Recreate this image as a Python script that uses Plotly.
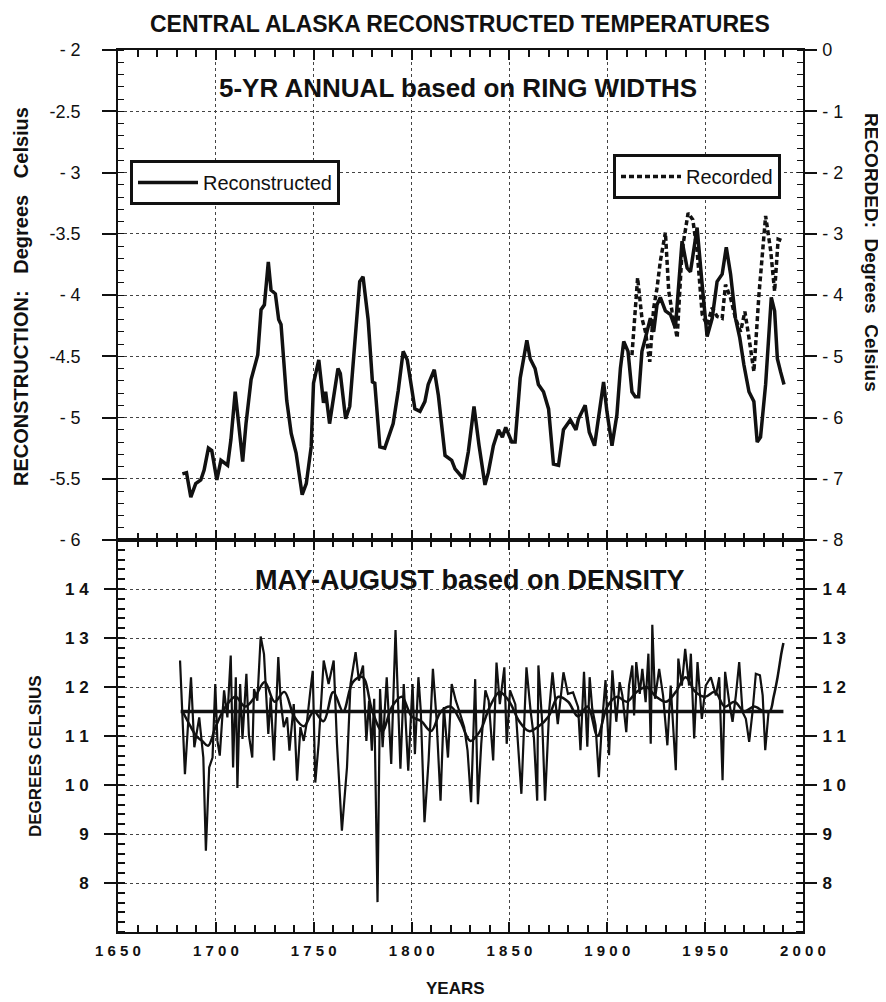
import plotly.graph_objects as go

# ---------------------------------------------------
# DATA — 5-yr annual reconstruction (ring widths)
# ---------------------------------------------------

recon_years = [
    1682.9, 1685.0, 1687.2, 1689.7, 1692.3, 1694.0, 1696.2, 1697.9, 1700.5, 1702.6,
    1706.0, 1707.7, 1709.9, 1712.0, 1713.7, 1715.4, 1718.0, 1721.4, 1723.1, 1724.8,
    1725.6, 1726.8, 1728.2, 1730.4, 1732.1, 1733.3, 1736.2, 1738.5, 1741.0, 1742.7,
    1744.1, 1746.2, 1748.7, 1749.9, 1752.6, 1755.0, 1756.1, 1758.1, 1760.7, 1762.4,
    1763.6, 1766.3, 1768.4, 1770.1, 1771.8, 1773.5, 1775.2, 1777.8, 1780.0, 1781.2,
    1783.8, 1786.3, 1790.6, 1793.2, 1795.7, 1797.8, 1801.7, 1804.3, 1806.8, 1808.5,
    1811.6, 1813.7, 1817.1, 1820.5, 1822.2, 1826.5, 1829.0, 1831.9, 1834.5, 1837.5,
    1839.2, 1841.8, 1844.4, 1846.4, 1848.1, 1851.2, 1852.9, 1855.5, 1858.9, 1860.6,
    1863.1, 1864.8, 1867.4, 1870.0, 1872.5, 1875.1, 1877.6, 1881.1, 1884.0, 1885.3,
    1888.7, 1890.8, 1893.5, 1895.6, 1898.1, 1899.8, 1902.4, 1904.9, 1906.7, 1908.4,
    1910.6, 1912.6, 1914.3, 1916.0, 1917.7, 1919.5, 1922.0, 1923.7, 1925.4, 1927.1,
    1929.7, 1932.3, 1934.8, 1938.2, 1940.8, 1942.5, 1945.9, 1948.5, 1951.0, 1953.6,
    1956.1, 1958.7, 1960.8, 1963.0, 1965.5, 1967.7, 1969.8, 1972.4, 1974.9, 1976.6,
    1978.3, 1980.9, 1983.8, 1985.5, 1986.9, 1988.6, 1990.3,
]
recon_values = [
    -5.46, -5.45, -5.65, -5.54, -5.51, -5.43, -5.25, -5.27, -5.51, -5.35,
    -5.39, -5.18, -4.79, -5.10, -5.36, -5.05, -4.69, -4.49, -4.12, -4.08,
    -3.93, -3.73, -3.96, -3.99, -4.20, -4.24, -4.86, -5.13, -5.29, -5.50,
    -5.63, -5.54, -5.24, -4.72, -4.53, -4.88, -4.79, -5.05, -4.78, -4.60,
    -4.64, -5.01, -4.91, -4.56, -4.20, -3.89, -3.85, -4.20, -4.71, -4.72,
    -5.24, -5.25, -5.05, -4.78, -4.46, -4.53, -4.93, -4.95, -4.87, -4.73,
    -4.61, -4.82, -5.31, -5.35, -5.42, -5.50, -5.28, -4.91, -5.23, -5.55,
    -5.45, -5.23, -5.10, -5.16, -5.08, -5.20, -5.20, -4.68, -4.37, -4.52,
    -4.60, -4.73, -4.79, -4.93, -5.38, -5.39, -5.10, -5.02, -5.10, -5.01,
    -4.90, -5.12, -5.23, -5.01, -4.71, -4.95, -5.23, -4.98, -4.60, -4.38,
    -4.46, -4.79, -4.83, -4.83, -4.46, -4.35, -4.19, -4.30, -4.08, -4.02,
    -4.13, -4.16, -4.27, -3.56, -3.78, -3.81, -3.45, -3.92, -4.34, -4.19,
    -3.89, -3.83, -3.61, -3.83, -4.19, -4.35, -4.57, -4.79, -4.87, -5.20,
    -5.16, -4.73, -4.02, -4.13, -4.52, -4.63, -4.73,
]

# recorded temperatures (right axis)
rec_years = [
    1912.6, 1915.5, 1917.7, 1919.5, 1921.7, 1923.7, 1925.4, 1927.1, 1929.7, 1931.4,
    1933.1, 1935.7, 1938.2, 1941.3, 1943.7, 1945.9, 1948.5, 1951.0, 1953.6, 1956.1,
    1958.7, 1960.4, 1963.0, 1965.5, 1968.1, 1970.3, 1972.4, 1974.9, 1977.5, 1979.2,
    1980.9, 1983.5, 1985.5, 1987.3, 1989.7,
]
rec_values = [
    -4.98, -3.72, -4.38, -4.60, -5.09, -4.21, -3.89, -3.45, -2.98, -3.94,
    -4.27, -4.70, -3.28, -2.66, -2.77, -3.28, -4.32, -4.49, -4.21, -4.35,
    -4.38, -3.83, -4.05, -4.38, -4.60, -4.27, -4.70, -5.25, -3.99, -3.28,
    -2.71, -3.28, -3.94, -3.09, -3.12,
]

# ---------------------------------------------------
# DATA — May-August (density)
# ---------------------------------------------------

dens_years = [
    1681.7, 1684.2, 1687.3, 1689.0, 1691.5, 1693.6, 1694.9, 1696.6, 1698.3, 1699.7,
    1700.8, 1702.0, 1704.2, 1705.9, 1707.6, 1708.8, 1710.2, 1711.0, 1712.4, 1713.6,
    1715.6, 1716.9, 1718.6, 1719.5, 1721.2, 1722.9, 1724.6, 1726.8, 1728.0, 1729.7,
    1731.9, 1733.1, 1734.7, 1736.4, 1737.6, 1739.8, 1741.5, 1743.2, 1744.9, 1746.6,
    1748.3, 1749.5, 1750.8, 1752.5, 1755.1, 1757.6, 1760.2, 1761.9, 1764.4, 1767.0,
    1768.8, 1771.4, 1773.1, 1775.2, 1776.9, 1778.3, 1779.7, 1780.9, 1782.6, 1783.9,
    1785.2, 1787.3, 1789.6, 1791.8, 1794.3, 1796.0, 1798.3, 1800.5, 1801.7, 1803.5,
    1804.7, 1806.6, 1808.7, 1810.9, 1812.7, 1814.8, 1816.5, 1818.6, 1820.5, 1822.6,
    1824.3, 1826.9, 1828.6, 1830.4, 1832.5, 1833.9, 1835.6, 1837.7, 1839.4, 1841.7,
    1843.4, 1845.1, 1847.4, 1848.6, 1850.3, 1853.0, 1856.1, 1858.7, 1860.8, 1862.5,
    1864.2, 1864.8, 1866.8, 1868.2, 1870.3, 1872.0, 1874.7, 1877.6, 1879.9, 1882.5,
    1885.1, 1886.3, 1888.1, 1889.8, 1891.0, 1892.3, 1894.0, 1895.7, 1897.1, 1899.1,
    1900.9, 1902.6, 1904.6, 1906.3, 1907.7, 1909.7, 1911.1, 1912.8, 1913.7, 1914.8,
    1916.6, 1917.9, 1919.6, 1921.0, 1922.2, 1923.0, 1924.4, 1926.5, 1928.5, 1930.7,
    1932.4, 1935.0, 1936.3, 1938.1, 1939.8, 1941.8, 1942.7, 1944.4, 1946.1, 1948.3,
    1950.3, 1952.9, 1955.5, 1957.2, 1958.9, 1960.2, 1962.3, 1964.0, 1965.7, 1967.4,
    1969.1, 1970.8, 1972.5, 1974.2, 1975.9, 1978.0, 1979.4, 1980.7, 1982.4, 1984.5,
]
dens_values = [
    12.54, 10.22, 12.20, 10.77, 11.38, 10.56, 8.66, 10.36, 10.56, 12.06,
    10.90, 10.60, 11.93, 11.38, 12.64, 10.36, 12.20, 9.94, 12.06, 10.94,
    12.27, 11.01, 10.56, 11.96, 11.72, 13.03, 12.67, 11.04, 11.79, 10.50,
    12.61, 11.72, 11.18, 11.38, 10.70, 11.65, 10.09, 11.18, 10.90, 11.31,
    11.93, 12.33, 10.05, 10.84, 12.54, 12.06, 12.54, 10.84, 9.07, 10.36,
    12.06, 12.71, 12.13, 12.44, 10.90, 11.72, 10.70, 11.76, 7.61, 11.96,
    10.77, 12.20, 10.43, 13.16, 10.33, 12.06, 10.29, 12.06, 10.63, 12.20,
    11.52, 9.24, 10.50, 12.37, 11.38, 9.68, 11.59, 10.56, 12.06, 11.72,
    11.52, 11.18, 10.70, 9.65, 12.16, 9.61, 10.84, 11.93, 11.72, 10.50,
    12.50, 11.65, 12.40, 10.84, 11.93, 11.65, 9.82, 12.40, 11.52, 10.97,
    9.68, 12.44, 11.24, 9.68, 11.52, 12.30, 11.24, 12.30, 11.86, 11.89,
    11.59, 10.71, 12.31, 10.78, 12.20, 11.56, 11.22, 10.16, 11.15, 12.14,
    10.61, 12.34, 11.29, 12.10, 11.83, 11.08, 12.03, 12.44, 11.42, 12.51,
    11.86, 12.37, 11.69, 12.68, 10.84, 13.27, 11.76, 12.37, 11.83, 10.81,
    12.03, 10.30, 12.58, 12.03, 12.78, 12.03, 12.68, 10.95, 12.51, 11.35,
    12.03, 12.20, 11.83, 12.20, 10.10, 12.31, 11.69, 11.29, 11.83, 12.51,
    11.49, 11.35, 10.88, 11.49, 12.27, 12.24, 11.83, 10.71, 11.49, 11.49,
]

# smoothed density curve
smooth_years = [
    1683, 1687, 1690, 1693, 1696, 1700, 1705, 1710, 1715, 1720,
    1725, 1730, 1735, 1740, 1745, 1750, 1755, 1760, 1765, 1770,
    1775, 1780, 1785, 1790, 1795, 1800, 1805, 1810, 1815, 1820,
    1825, 1830, 1835, 1840, 1845, 1850, 1855, 1860, 1865, 1870,
    1875, 1880, 1885, 1890, 1895, 1900, 1905, 1910, 1915, 1920,
    1925, 1930, 1935, 1940, 1945, 1950, 1955, 1960, 1965, 1970,
    1975, 1980, 1983, 1985, 1987, 1989, 1990,
]
smooth_values = [
    11.5, 11.2, 11.0, 10.9, 10.8, 11.2, 11.6, 11.8, 11.6, 11.8,
    12.1, 11.7, 11.9, 11.4, 11.2, 11.5, 11.3, 11.9, 11.5, 12.1,
    12.2, 11.5, 11.1, 11.6, 11.8, 11.4, 11.3, 11.1, 11.5, 11.6,
    11.3, 10.9, 11.1, 11.6, 11.9, 11.7, 11.3, 11.1, 11.2, 11.4,
    11.8, 11.7, 11.4, 11.6, 11.0, 11.6, 11.8, 11.7, 11.9, 12.0,
    11.8, 11.7, 11.9, 12.2, 11.9, 11.8, 11.9, 11.6, 11.7, 11.5,
    11.6, 11.5, 11.5, 11.8, 12.2, 12.7, 12.9,
]

mean_years = [1682, 1990]
mean_values = [11.5, 11.5]

# tick labels
x_ticks = [1650, 1700, 1750, 1800, 1850, 1900, 1950, 2000]
x_labels = ['1 6 5 0', '1 7 0 0', '1 7 5 0', '1 8 0 0', '1 8 5 0', '1 9 0 0', '1 9 5 0', '2 0 0 0']
recon_ticks = [-2, -2.5, -3, -3.5, -4, -4.5, -5, -5.5, -6]
recon_labels = ['- 2', '-2.5', '- 3', '-3.5', '- 4', '-4.5', '- 5', '-5.5', '- 6']
rec_ticks = [0, -1, -2, -3, -4, -5, -6, -7, -8]
rec_labels = ['0', '- 1', '- 2', '- 3', '- 4', '- 5', '- 6', '- 7', '- 8']
dens_ticks = [8, 9, 10, 11, 12, 13, 14]
dens_labels = ['8', '9', '1 0', '1 1', '1 2', '1 3', '1 4']

FONT = 'Liberation Sans, Arial, sans-serif'
BLACK = '#111111'

# ---------------------------------------------------
# TRACES
# ---------------------------------------------------

fig = go.Figure()

fig.add_trace(go.Scatter(
    x=dens_years, y=dens_values, xaxis='x', yaxis='y',
    mode='lines', line=dict(color=BLACK, width=2.2), showlegend=False
))
fig.add_trace(go.Scatter(
    x=smooth_years, y=smooth_values, xaxis='x', yaxis='y',
    mode='lines', line=dict(color=BLACK, width=2.5, shape='spline'), showlegend=False
))
fig.add_trace(go.Scatter(
    x=mean_years, y=mean_values, xaxis='x', yaxis='y4',
    mode='lines', line=dict(color=BLACK, width=3.5), showlegend=False
))

fig.add_trace(go.Scatter(
    x=recon_years, y=recon_values, xaxis='x2', yaxis='y2',
    mode='lines', name='Reconstructed', legend='legend',
    line=dict(color=BLACK, width=3.5)
))
fig.add_trace(go.Scatter(
    x=rec_years, y=rec_values, xaxis='x2', yaxis='y3',
    mode='lines', name='Recorded', legend='legend2',
    line=dict(color=BLACK, width=3.5, dash='5px,3px')
))

# ---------------------------------------------------
# AXES
# ---------------------------------------------------

split = 392 / 882
grid = dict(showgrid=True, gridcolor='#444444', gridwidth=1, griddash='dot')
minor_x = dict(tickmode='array', tickvals=list(range(1650, 2001, 10)),
               ticks='inside', ticklen=7, tickcolor=BLACK, tickwidth=1.5, showgrid=False)
minor_dens = [7 + 0.2 * i for i in range(41)]

fig.update_layout(
    xaxis=dict(
        domain=[0, 1], anchor='y', range=[1650, 2000],
        tickmode='array', tickvals=x_ticks, ticktext=x_labels,
        ticks='inside', ticklen=10, tickwidth=2, tickcolor=BLACK,
        showline=True, linecolor=BLACK, linewidth=2, mirror='ticks',
        tickfont=dict(family=FONT, size=15, color=BLACK, weight='bold'),
        ticklabelstandoff=4,
        minor=minor_x, zeroline=False, **grid
    ),
    yaxis=dict(
        domain=[0, split], anchor='x', range=[7, 15],
        tickmode='array', tickvals=dens_ticks, ticktext=dens_labels,
        ticks='outside', ticklen=12, tickwidth=2, tickcolor=BLACK,
        showline=True, linecolor=BLACK, linewidth=2,
        tickfont=dict(family=FONT, size=17, color=BLACK, weight='bold'),
        ticklabelstandoff=12,
        minor=dict(tickmode='array', tickvals=minor_dens,
                   ticks='inside', ticklen=7, tickwidth=2, tickcolor=BLACK, showgrid=False),
        zeroline=False, **grid
    ),
    yaxis4=dict(
        overlaying='y', side='right', anchor='x', range=[7, 15],
        tickmode='array', tickvals=dens_ticks, ticktext=dens_labels,
        ticks='outside', ticklen=12, tickwidth=2, tickcolor=BLACK,
        showline=True, linecolor=BLACK, linewidth=2,
        tickfont=dict(family=FONT, size=17, color=BLACK, weight='bold'),
        ticklabelstandoff=2,
        minor=dict(tickmode='array', tickvals=minor_dens,
                   ticks='inside', ticklen=7, tickwidth=2, tickcolor=BLACK),
        showgrid=False, zeroline=False
    ),
    xaxis2=dict(
        domain=[0, 1], anchor='y2', range=[1650, 2000],
        tickmode='array', tickvals=x_ticks, showticklabels=False,
        ticks='inside', ticklen=10, tickwidth=1.5, tickcolor=BLACK,
        showline=True, linecolor=BLACK, linewidth=2, mirror='ticks',
        minor=minor_x, zeroline=False, **grid
    ),
    yaxis2=dict(
        domain=[split, 1], anchor='x2', range=[-6, -2],
        tickmode='array', tickvals=recon_ticks, ticktext=recon_labels,
        ticks='outside', ticklen=14, tickwidth=1.5, tickcolor=BLACK,
        showline=True, linecolor=BLACK, linewidth=1.5,
        tickfont=dict(family=FONT, size=18, color=BLACK),
        ticklabelstandoff=18,
        minor=dict(tickmode='array', tickvals=[-6 + 0.1 * i for i in range(41)],
                   ticks='inside', ticklen=6, tickwidth=1.2, tickcolor=BLACK, showgrid=False),
        zeroline=False, **grid
    ),
    yaxis3=dict(
        overlaying='y2', side='right', anchor='x2', range=[-8, 0],
        tickmode='array', tickvals=rec_ticks, ticktext=rec_labels,
        ticks='outside', ticklen=12, tickwidth=1.5, tickcolor=BLACK,
        showline=True, linecolor=BLACK, linewidth=1.5,
        tickfont=dict(family=FONT, size=18, color=BLACK),
        ticklabelstandoff=2,
        minor=dict(tickmode='array', tickvals=[-8 + 0.2 * i for i in range(41)],
                   ticks='inside', ticklen=6, tickwidth=1.2, tickcolor=BLACK),
        showgrid=False, zeroline=False
    ),
)

# ---------------------------------------------------
# LEGENDS
# ---------------------------------------------------

legend_style = dict(
    xanchor='left', yanchor='top', bgcolor='white',
    bordercolor=BLACK, borderwidth=3,
    font=dict(family=FONT, size=20, color=BLACK),
    itemwidth=60
)
fig.update_layout(
    legend=dict(x=(130 - 118) / 685, y=(932 - 160) / 882, **legend_style),
    legend2=dict(x=(613 - 118) / 685, y=(932 - 154) / 882, **legend_style),
)

# ---------------------------------------------------
# TEXT
# ---------------------------------------------------

def px(x):
    return (x - 118) / 685

def py(y):
    return (932 - y) / 882

def label(text, x, y, size, angle=0):
    fig.add_annotation(
        text=text, x=px(x), y=py(y), xref='paper', yref='paper',
        xanchor='center', yanchor='middle', showarrow=False, textangle=angle,
        font=dict(family=FONT, size=size, color=BLACK, weight='bold')
    )

label('CENTRAL ALASKA RECONSTRUCTED TEMPERATURES', 460, 24, 23)
label('5-YR ANNUAL based on RING WIDTHS', 458, 88, 26)
label('MAY-AUGUST based on DENSITY', 470, 580, 27)
label('RECONSTRUCTION:   Degrees   Celsius', 21, 297, 20, angle=-90)
label('RECORDED:  Degrees  Celsius', 872, 252, 19, angle=90)
label('DEGREES CELSIUS', 35, 756, 17, angle=-90)
label('YEARS', 455, 988, 17)

# the page body adds an 8px margin, so the figure is 8px smaller
fig.update_layout(
    width=878, height=994,
    margin=dict(l=110, r=83, t=42, b=70),
    paper_bgcolor='white', plot_bgcolor='white',
    font=dict(family=FONT, color=BLACK),
)

fig.write_html('out.html')
